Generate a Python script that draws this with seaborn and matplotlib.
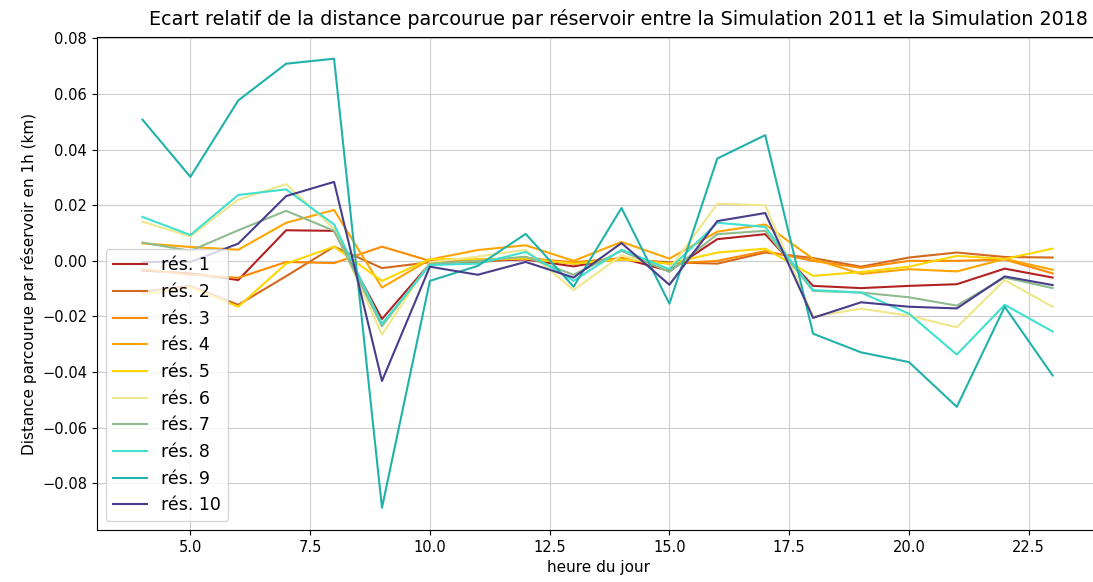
import matplotlib
matplotlib.use("Agg")
import matplotlib.pyplot as plt
import seaborn as sns
import pandas as pd

# Hours of the day
hours = list(range(4, 24))

# Relative gap of distance travelled per reservoir (2011 vs 2018)
res_1 = [-0.0035, -0.0045, -0.0069, 0.0110, 0.0108, -0.0209, -0.0010, 0.0000, 0.0005, -0.0020,
         0.0010, -0.0036, 0.0078, 0.0096, -0.0090, -0.0098, -0.0090, -0.0084, -0.0028, -0.0060]
res_2 = [-0.0110, -0.0090, -0.0158, -0.0055, 0.0051, -0.0026, -0.0005, -0.0005, 0.0010, -0.0010,
         0.0005, -0.0005, -0.0010, 0.0030, 0.0010, -0.0021, 0.0012, 0.0030, 0.0014, 0.0012]
res_3 = [-0.0030, -0.0050, -0.0061, -0.0004, -0.0008, 0.0051, 0.0000, 0.0005, 0.0010, -0.0005,
         0.0010, -0.0010, 0.0000, 0.0035, 0.0000, -0.0025, 0.0000, 0.0000, 0.0005, -0.0045]
res_4 = [0.0063, 0.0050, 0.0040, 0.0137, 0.0183, -0.0096, 0.0005, 0.0039, 0.0056, 0.0000,
         0.0068, 0.0008, 0.0105, 0.0131, 0.0007, -0.0047, -0.0030, -0.0038, 0.0007, -0.0032]
res_5 = [-0.0120, -0.0095, -0.0165, -0.0010, 0.0051, -0.0072, 0.0007, 0.0005, 0.0008, -0.0010,
         0.0005, -0.0010, 0.0030, 0.0044, -0.0054, -0.0040, -0.0021, 0.0018, 0.0007, 0.0044]
res_6 = [0.0141, 0.0088, 0.0220, 0.0276, 0.0115, -0.0265, -0.0005, 0.0015, 0.0040, -0.0105,
         0.0020, -0.0030, 0.0205, 0.0200, -0.0200, -0.0172, -0.0197, -0.0239, -0.0069, -0.0165]
res_7 = [0.0066, 0.0036, 0.0110, 0.0180, 0.0108, -0.0235, -0.0010, 0.0000, 0.0015, -0.0050,
         0.0036, -0.0040, 0.0096, 0.0108, -0.0108, -0.0114, -0.0131, -0.0161, -0.0060, -0.0098]
res_8 = [0.0158, 0.0093, 0.0237, 0.0257, 0.0131, -0.0226, -0.0015, -0.0010, 0.0032, -0.0072,
         0.0040, -0.0030, 0.0137, 0.0122, -0.0105, -0.0114, -0.0190, -0.0337, -0.0158, -0.0254]
res_9 = [0.0508, 0.0302, 0.0577, 0.0709, 0.0727, -0.0888, -0.0072, -0.0018, 0.0097, -0.0093,
         0.0190, -0.0154, 0.0368, 0.0452, -0.0262, -0.0329, -0.0364, -0.0525, -0.0165, -0.0412]
res_10 = [-0.0004, -0.0004, 0.0062, 0.0233, 0.0284, -0.0432, -0.0021, -0.0050, -0.0004, -0.0060,
          0.0064, -0.0086, 0.0143, 0.0172, -0.0205, -0.0149, -0.0165, -0.0171, -0.0056, -0.0087]

labels = ["rés. 1", "rés. 2", "rés. 3", "rés. 4", "rés. 5",
          "rés. 6", "rés. 7", "rés. 8", "rés. 9", "rés. 10"]
series = [res_1, res_2, res_3, res_4, res_5, res_6, res_7, res_8, res_9, res_10]
colors = ["#b22222", "#d2691e", "#ff8c00", "#ffa500", "#ffd700",
          "#f0e68c", "#8fbc8f", "#40e0d0", "#20b2aa", "#483d8b"]

df = pd.DataFrame(
    [(h, v, lab) for lab, vals in zip(labels, series) for h, v in zip(hours, vals)],
    columns=["heure", "ecart", "reservoir"],
)

plt.rcParams["font.family"] = ["DejaVu Sans"]
fig = plt.figure(figsize=(10.93, 5.82), dpi=100)
# the plotting area runs slightly past the right edge of the canvas
ax = fig.add_axes([0.0887, 0.0893, 1.006 - 0.0887, 0.9364 - 0.0893])

sns.lineplot(data=df, x="heure", y="ecart", hue="reservoir", hue_order=labels,
             palette=colors, linewidth=1.5, ax=ax)

ax.grid(True, color="#cccccc", linewidth=0.8)
ax.set_axisbelow(True)
ax.set_xlim(3.05, 23.98)
ax.set_ylim(-0.0968, 0.0805)
ax.tick_params(labelsize=10.5)
ax.set_xlabel("heure du jour", fontsize=11)
ax.set_ylabel("Distance parcourue par réservoir en 1h (km)", fontsize=11)
ax.set_title("Ecart relatif de la distance parcourue par réservoir entre la Simulation 2011 et la Simulation 2018",
             fontsize=13.8, x=0.52, pad=9)
ax.legend(title=None, loc="lower left", fontsize=12.5)

fig.savefig("out.png", dpi=100)
